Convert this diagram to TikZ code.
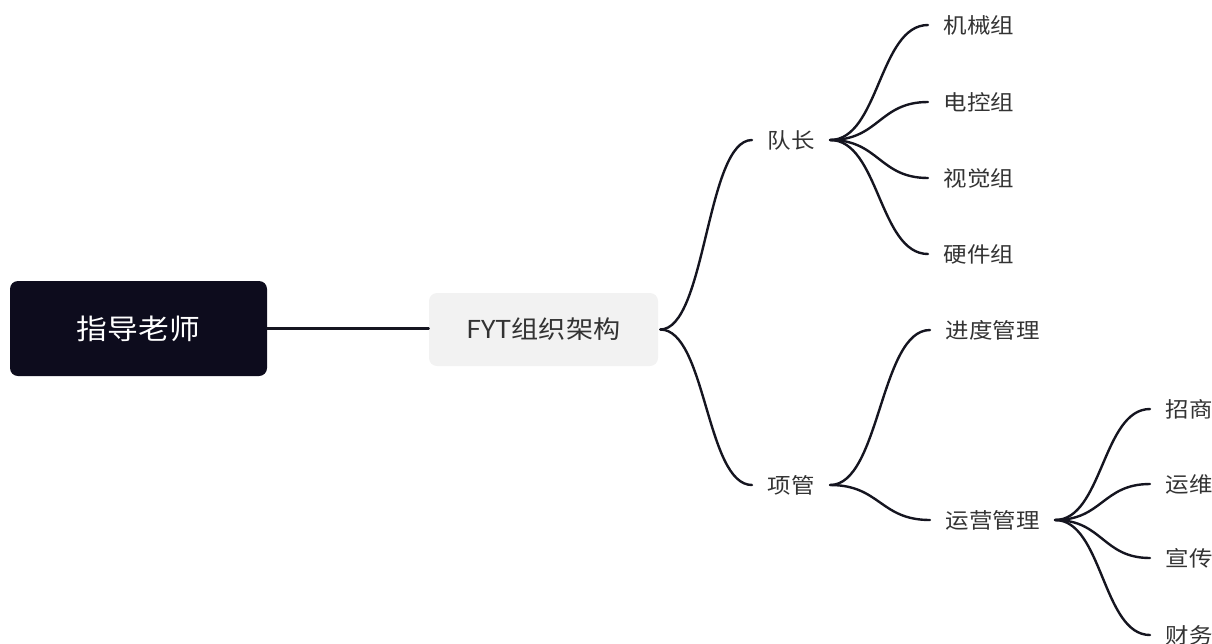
\documentclass[tikz,border=0pt]{standalone}
\usepackage{fontspec}
\setmainfont{Noto Sans CJK SC}[FakeStretch=1.1]
\usetikzlibrary{calc}
\definecolor{rootfill}{HTML}{0D0C1D}
\definecolor{subfill}{HTML}{F2F2F2}
\definecolor{linecol}{HTML}{151520}
\definecolor{txt}{HTML}{333333}
\tikzset{
  rootbox/.style={fill=rootfill, rounded corners=6pt, text=white, font=\fontsize{21pt}{24pt}\selectfont, minimum width=192.75pt, minimum height=71.25pt, inner sep=0pt},
  subbox/.style={fill=subfill, rounded corners=6pt, text=txt, font=\fontsize{18.5pt}{22pt}\selectfont, minimum width=171.75pt, minimum height=54.75pt, inner sep=0pt},
  leaf/.style={anchor=west, text=txt, font=\fontsize{16pt}{19pt}\selectfont, inner xsep=11.5pt, inner ysep=2pt},
  conn/.style={draw=linecol, line width=1.8pt, line cap=round},
  branch/.style={to path={.. controls ($(\tikztostart)!0.5!(\tikztotarget |- \tikztostart)$) and ($(\tikztotarget)!0.5!(\tikztostart |- \tikztotarget)$) .. (\tikztotarget)}}
}
\begin{document}
\begin{tikzpicture}[x=0.75pt,y=-0.75pt]
\useasboundingbox (0,0) rectangle (1212,643);
\node[rootbox] (root) at (138.5,328.5) {指导老师};
\node[subbox] (fyt) at (543.5,329.5) {FYT组织架构};
\node[leaf] (dz) at (752,140) {队长};
\node[leaf] (xg) at (752,485) {项管};
\node[leaf] (jx) at (928,25) {机械组};
\node[leaf] (dk) at (928,102) {电控组};
\node[leaf] (sj) at (928,178) {视觉组};
\node[leaf] (yj) at (928,254) {硬件组};
\node[leaf] (jd) at (930,330) {进度管理};
\node[leaf] (yy) at (930,520) {运营管理};
\node[leaf] (zs) at (1150,409) {招商};
\node[leaf] (yw) at (1150,484) {运维};
\node[leaf] (xc) at (1150,558) {宣传};
\node[leaf] (cw) at (1150,635) {财务};
\draw[conn] (root.east) -- (fyt.west |- root.east);
\coordinate (f0) at ($(fyt.east)+(2,0)$);
\draw[conn] (f0) to[branch] (dz.west);
\draw[conn] (f0) to[branch] (xg.west);
\foreach \c in {jx,dk,sj,yj} \draw[conn] (dz.east) to[branch] (\c.west);
\foreach \c in {jd,yy} \draw[conn] (xg.east) to[branch] (\c.west);
\foreach \c in {zs,yw,xc,cw} \draw[conn] (yy.east) to[branch] (\c.west);
\end{tikzpicture}
\end{document}
